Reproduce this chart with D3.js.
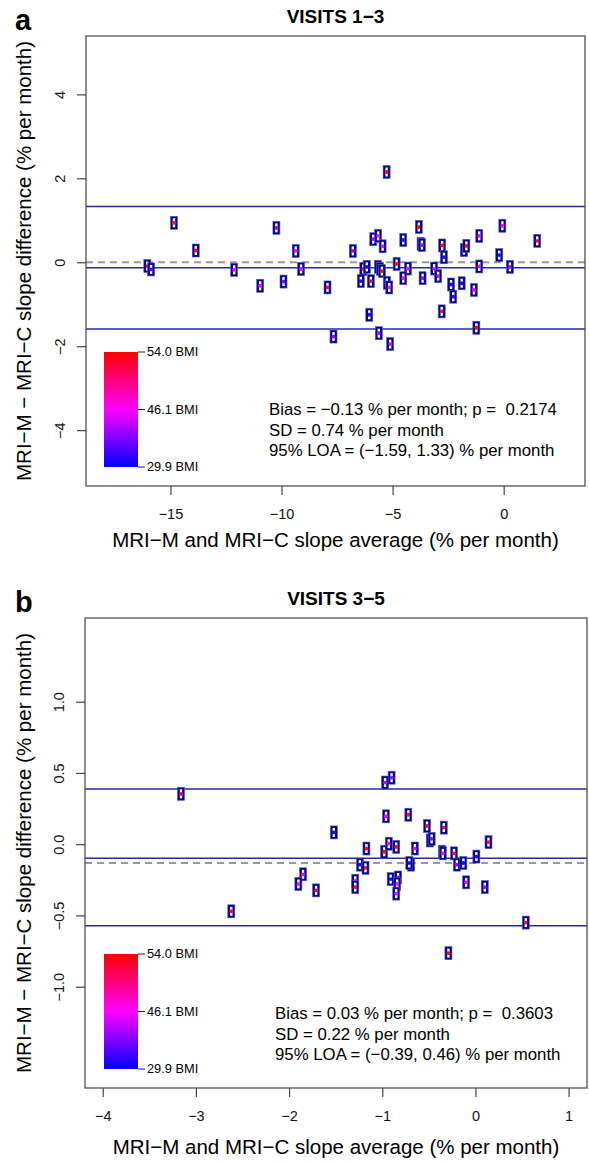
<!DOCTYPE html>
<html>
<head>
<meta charset="utf-8">
<script src="https://cdn.jsdelivr.net/npm/d3@7"></script>
<style>
  body { margin: 0; background: #fff; }
  svg { font-family: "Liberation Sans", Arial, Helvetica, sans-serif; }
  text { white-space: pre; }
</style>
</head>
<body>
<div id="chart"></div>
<script>
// ---- panel a : visits 1-3 ----
const avgA = [-14.84, -13.86, -16.04, -15.87, -12.13, -10.96, -9.91, -10.23, -9.36, -9.12, -7.93, -7.66,
  -5.27, -6.79, -6.32, -6.16, -6.43, -5.98, -6.05, -5.87, -5.65, -5.45, -5.66, -5.57, -5.48, -5.26, -5.15,
  -5.62, -5.11, -4.82, -4.52, -4.31, -4.52, -3.82, -3.74, -3.68, -3.65, -3.13, -2.95, -2.77, -2.69, -2.79,
  -2.37, -2.27, -1.89, -1.79, -1.68, -1.34, -1.23, -1.10, -1.10, -0.20, -0.06, 0.28, 1.51];
const diffA = [0.94, 0.28, -0.09, -0.17, -0.18, -0.56, -0.46, 0.82, 0.27, -0.16, -0.60, -1.77,
  2.15, 0.27, -0.16, -0.11, -0.45, -0.45, -1.25, 0.55, 0.63, 0.38, -0.11, -0.16, -0.21, -0.49, -0.60,
  -1.69, -1.95, -0.04, 0.53, -0.15, -0.38, 0.84, 0.44, 0.41, -0.38, -0.15, -0.33, 0.40, 0.12, -1.17,
  -0.53, -0.82, -0.50, 0.29, 0.39, -0.66, -1.56, 0.63, -0.10, 0.17, 0.87, -0.11, 0.51];
const bmiA = [51, 53, 53, 36, 46, 46, 38, 40, 46, 46, 53, 41,
  53, 41, 53, 32, 33, 52, 32, 41, 46, 46, 32, 41, 53, 41, 46,
  41, 44, 53, 33, 46, 46, 53, 46, 41, 40, 46, 41, 53, 33, 53,
  32, 33, 32, 53, 53, 46, 53, 46, 46, 33, 46, 40, 53];
const xTicksA = [-15, -10, -5, 0];
const yTicksA = [-4, -2, 0, 2, 4];
const statsA = ["Bias = \u22120.13 % per month; p =  0.2174", "SD = 0.74 % per month", "95% LOA = (\u22121.59, 1.33) % per month"];
const linesA = [1.33, -0.13, -1.59];

// ---- panel b : visits 3-5 ----
const avgB = [-3.16, -1.52, -1.85, -1.90, -1.71, -2.62, -0.97, -0.90, -0.96, -0.72, -0.52, -0.34, -0.49, -0.47,
  -1.17, -0.98, -0.93, -0.85, -0.65, -0.36, -0.35, -0.23, 0.14, 0.01, -1.24, -1.18, -0.69, -0.71, -0.20, -0.13,
  -1.29, -1.29, -0.91, -0.83, -0.84, -0.85, -0.10, 0.10, 0.54, -0.29];
const diffB = [0.43, 0.19, -0.07, -0.13, -0.17, -0.30, 0.50, 0.53, 0.29, 0.30, 0.23, 0.22, 0.14, 0.15,
  0.09, 0.07, 0.12, 0.10, 0.09, 0.07, 0.06, 0.06, 0.13, 0.04, -0.01, -0.03, -0.01, 0.00, -0.01, 0.00,
  -0.11, -0.15, -0.10, -0.09, -0.13, -0.19, -0.12, -0.15, -0.37, -0.56];
const bmiB = [53, 31, 46, 46, 53, 53, 43, 40, 46, 53, 53, 53, 41, 40,
  53, 53, 46, 53, 46, 32, 46, 53, 52, 32, 32, 53, 46, 32, 41, 32,
  46, 53, 32, 41, 46, 46, 46, 40, 53, 53];
const xTicksB = [-4, -3, -2, -1, 0, 1];
const yTicksB = [-1.0, -0.5, 0.0, 0.5, 1.0];
const statsB = ["Bias = 0.03 % per month; p =  0.3603", "SD = 0.22 % per month", "95% LOA = (\u22120.39, 0.46) % per month"];
const linesB = [0.46, 0.03, -0.39];

// colour key
const bmiStops = [29.9, 46.1, 54.0];
const bmiColors = ["#0000ff", "#ff00ff", "#ff0000"];

const W = 589, H = 1163;
const svg = d3.select("#chart").append("svg").attr("width", W).attr("height", H);

const defs = svg.append("defs");
const grad = defs.append("linearGradient").attr("id", "bmiGrad")
  .attr("x1", 0).attr("y1", 1).attr("x2", 0).attr("y2", 0);
bmiColors.forEach((c, i) => grad.append("stop").attr("offset", i / (bmiColors.length - 1)).attr("stop-color", c));

const color = d3.scaleLinear().domain(bmiStops).range(bmiColors);

function drawPanel(opts) {
  const g = svg.append("g");
  const x = d3.scaleLinear().domain(opts.xDom).range([opts.left, opts.right]);
  const y = d3.scaleLinear().domain(opts.yDom).range([opts.bottom, opts.top]);
  // scale used for the printed y axis (offset from the data in panel b of the original)
  const yAx = d3.scaleLinear().domain(opts.yAxisDom || opts.yDom).range([opts.bottom, opts.top]);

  // panel letter and title
  g.append("text").attr("x", 15).attr("y", opts.top - 6)
    .attr("font-size", 29).attr("font-weight", "bold").text(opts.letter);
  g.append("text").attr("x", (opts.left + opts.right) / 2).attr("y", opts.top - 13)
    .attr("text-anchor", "middle").attr("font-size", 19).attr("font-weight", "bold").text(opts.title);

  // reference lines
  g.append("line").attr("x1", opts.left).attr("x2", opts.right)
    .attr("y1", y(0)).attr("y2", y(0))
    .attr("stroke", "#999").attr("stroke-width", 2).attr("stroke-dasharray", "7,5");
  g.selectAll(".loa").data(opts.lines).enter().append("line")
    .attr("x1", opts.left).attr("x2", opts.right)
    .attr("y1", d => y(d)).attr("y2", d => y(d))
    .attr("stroke", "#2a2aa0").attr("stroke-width", 1.4);

  // points
  const pts = g.selectAll(".pt").data(opts.avg.map((a, i) => ({ a, d: opts.diff[i], b: opts.bmi[i] })))
    .enter().append("g").attr("transform", d => `translate(${x(d.a)},${y(d.d)})`);
  pts.append("rect").attr("x", -3.5).attr("y", -6.5).attr("width", 7).attr("height", 13)
    .attr("fill", "#00008b").attr("stroke", "#5555bb").attr("stroke-width", 0.6);
  pts.append("rect").attr("x", -1.2).attr("y", -4.5).attr("width", 2.4).attr("height", 9).attr("fill", "#fff");
  pts.append("circle").attr("r", 1.9).attr("fill", d => color(d.b));

  // box
  g.append("rect").attr("x", opts.left).attr("y", opts.top)
    .attr("width", opts.right - opts.left).attr("height", opts.bottom - opts.top)
    .attr("fill", "none").attr("stroke", "#444").attr("stroke-width", 1.2);

  // x axis
  const xAxis = g.append("g").attr("transform", `translate(0,${opts.bottom})`)
    .call(d3.axisBottom(x).tickValues(opts.xTicks).tickSize(9).tickPadding(14).tickFormat(opts.xFmt));
  // y axis, labels turned to read upwards
  const yAxis = g.append("g").attr("transform", `translate(${opts.left},0)`)
    .call(d3.axisLeft(yAx).tickValues(opts.yTicks).tickSize(9).tickFormat(opts.yFmt));
  [xAxis, yAxis].forEach(a => {
    a.select(".domain").remove();
    a.selectAll("line").attr("stroke", "#444").attr("stroke-width", 1.2);
    a.selectAll("text").attr("font-size", 14.5).attr("fill", "#111")
      .attr("font-family", "'Liberation Sans', Arial, sans-serif");
  });
  yAxis.selectAll("text")
    .attr("x", null).attr("dy", "0.35em").attr("text-anchor", "middle")
    .attr("transform", "translate(-26,0) rotate(-90)");

  // axis titles
  g.append("text").attr("x", (opts.left + opts.right) / 2).attr("y", opts.bottom + opts.xLabDy)
    .attr("text-anchor", "middle").attr("font-size", 20.5)
    .text("MRI\u2212M and MRI\u2212C slope average (% per month)");
  g.append("text").attr("transform", `translate(31,${(opts.top + opts.bottom) / 2}) rotate(-90)`)
    .attr("text-anchor", "middle").attr("font-size", 20.5)
    .text("MRI\u2212M \u2212 MRI\u2212C slope difference (% per month)");

  // colour key
  const kx = 104, kw = 34, kb = opts.bottom - 19, kt = kb - 115;
  g.append("rect").attr("x", kx).attr("y", kt).attr("width", kw).attr("height", kb - kt)
    .attr("fill", "url(#bmiGrad)");
  const ky = d3.scaleLinear().domain([0, bmiStops.length - 1]).range([kb, kt]);
  const kl = g.selectAll(".key").data(bmiStops).enter().append("g")
    .attr("transform", (d, i) => `translate(${kx + kw},${ky(i)})`);
  kl.append("line").attr("x1", 0).attr("x2", 7).attr("stroke", "#222").attr("stroke-width", 1);
  kl.append("text").attr("x", 9).attr("dy", "0.35em").attr("font-size", 12.8)
    .text(d => d.toFixed(1) + " BMI");

  // statistics
  g.selectAll(".stat").data(opts.stats).enter().append("text")
    .attr("x", opts.statX).attr("y", (d, i) => opts.statY + i * 20.7)
    .attr("dy", "0.35em").attr("font-size", 16.8).text(d => d);
}

drawPanel({
  letter: "a", title: "VISITS 1\u22123",
  left: 86, right: 585, top: 36, bottom: 486,
  xDom: [-18.8, 3.66], yDom: [-5.33, 5.39],
  xTicks: xTicksA, yTicks: yTicksA,
  xFmt: d3.format("d"), yFmt: d3.format("d"),
  avg: avgA, diff: diffA, bmi: bmiA, lines: linesA,
  stats: statsA, statX: 269, statY: 409, xLabDy: 61
});

drawPanel({
  letter: "b", title: "VISITS 3\u22125",
  left: 85, right: 587, top: 618, bottom: 1088,
  xDom: [-4.19, 1.197], yDom: [-1.3975, 1.522], yAxisDom: [-1.711, 1.587],
  xTicks: xTicksB, yTicks: yTicksB,
  xFmt: d3.format("d"), yFmt: d3.format(".1f"),
  avg: avgB, diff: diffB, bmi: bmiB, lines: linesB,
  stats: statsB, statX: 275, statY: 1013, xLabDy: 66
});
</script>
</body>
</html>
